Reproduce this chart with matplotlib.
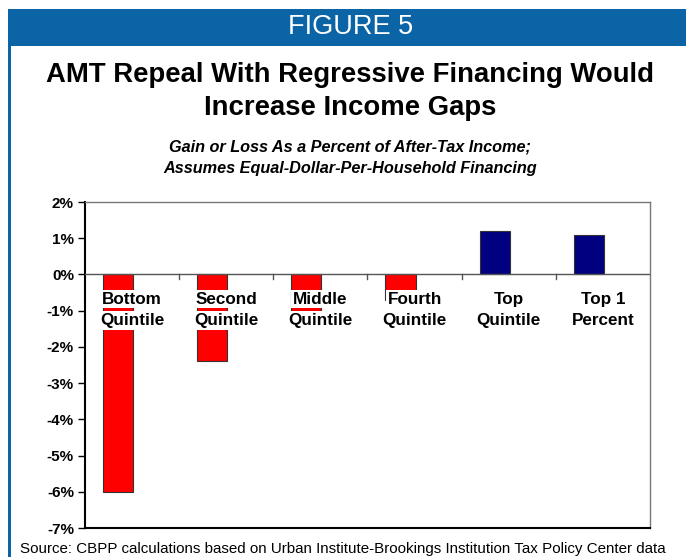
import matplotlib
matplotlib.use("Agg")
from matplotlib import pyplot as plt
from matplotlib.patches import Rectangle
import numpy as np

plt.rcParams['font.family'] = ['Liberation Sans', 'DejaVu Sans']

groups = ["Bottom\nQuintile", "Second\nQuintile", "Middle\nQuintile",
          "Fourth\nQuintile", "Top\nQuintile", "Top 1\nPercent"]
change = [-6.0, -2.4, -1.0, -0.7, 1.2, 1.1]
yticks = [2, 1, 0, -1, -2, -3, -4, -5, -6, -7]

BLUE = "#0A64A6"
W, H = 686, 557
fig = plt.figure(figsize=(W / 100, H / 100), dpi=100)

# header band and left rule
fig.patches.append(Rectangle((8 / W, 1 - 46 / H), 1, 37 / H, transform=fig.transFigure,
                             facecolor=BLUE, edgecolor="none"))
fig.patches.append(Rectangle((8 / W, 0), 2.5 / W, 1 - 46 / H, transform=fig.transFigure,
                             facecolor=BLUE, edgecolor="none"))

fig.text(351 / W, 1 - 27 / H, "FIGURE 5", color="white", fontsize=19.5,
         ha="center", va="center")
fig.text(350 / W, 1 - 75 / H, "AMT Repeal With Regressive Financing Would",
         fontsize=19.8, fontweight="bold", ha="center", va="center")
fig.text(350 / W, 1 - 108 / H, "Increase Income Gaps",
         fontsize=19.8, fontweight="bold", ha="center", va="center")
fig.text(350 / W, 1 - 147 / H, "Gain or Loss As a Percent of After-Tax Income;",
         fontsize=11.7, fontweight="bold", style="italic", ha="center", va="center")
fig.text(350 / W, 1 - 169 / H, "Assumes Equal-Dollar-Per-Household Financing",
         fontsize=11.7, fontweight="bold", style="italic", ha="center", va="center")
fig.text(343 / W, 1 - 549 / H,
         "Source: CBPP calculations based on Urban Institute-Brookings Institution Tax Policy Center data",
         fontsize=10.9, ha="center", va="center")

ax = fig.add_axes([85 / W, 1 - 528 / H, 565 / W, 326 / H])
x = np.arange(len(groups))
colors = ["#FF0000" if v < 0 else "#000080" for v in change]
ax.bar(x - 0.15, change, width=0.32, color=colors, edgecolor="#333333",
       linewidth=0.8, zorder=2)

ax.set_xlim(-0.5, len(groups) - 0.5)
ax.set_ylim(-7, 2)
ax.set_yticks(yticks)
ax.set_yticklabels([f"{t}%" for t in yticks], fontsize=11, fontweight="bold")
ax.tick_params(axis="y", length=5, width=1, pad=3)

# zero line with category tick marks
ax.axhline(0, color="#555555", linewidth=1, zorder=3)
ax.set_xticks([])
for b in np.arange(0.5, len(groups) - 0.5, 1):
    ax.plot([b, b], [0, -0.12], color="#555555", linewidth=1, zorder=3)

for s in ("top", "right"):
    ax.spines[s].set_color("#777777")
    ax.spines[s].set_linewidth(1)
ax.spines["left"].set_linewidth(1.5)
ax.spines["bottom"].set_linewidth(1.5)

# category labels sit just under the zero line on a white box
for i, g in enumerate(groups):
    top, bottom = g.split("\n")
    ax.text(i, -0.68, top, fontsize=12.3, fontweight="bold", ha="center", va="center",
            zorder=4, bbox=dict(facecolor="white", edgecolor="none", pad=1.2))
    ax.text(i, -1.27, bottom, fontsize=12.3, fontweight="bold", ha="center", va="center",
            zorder=4, bbox=dict(facecolor="white", edgecolor="none", pad=1.2))

fig.savefig("out.png", dpi=100)
